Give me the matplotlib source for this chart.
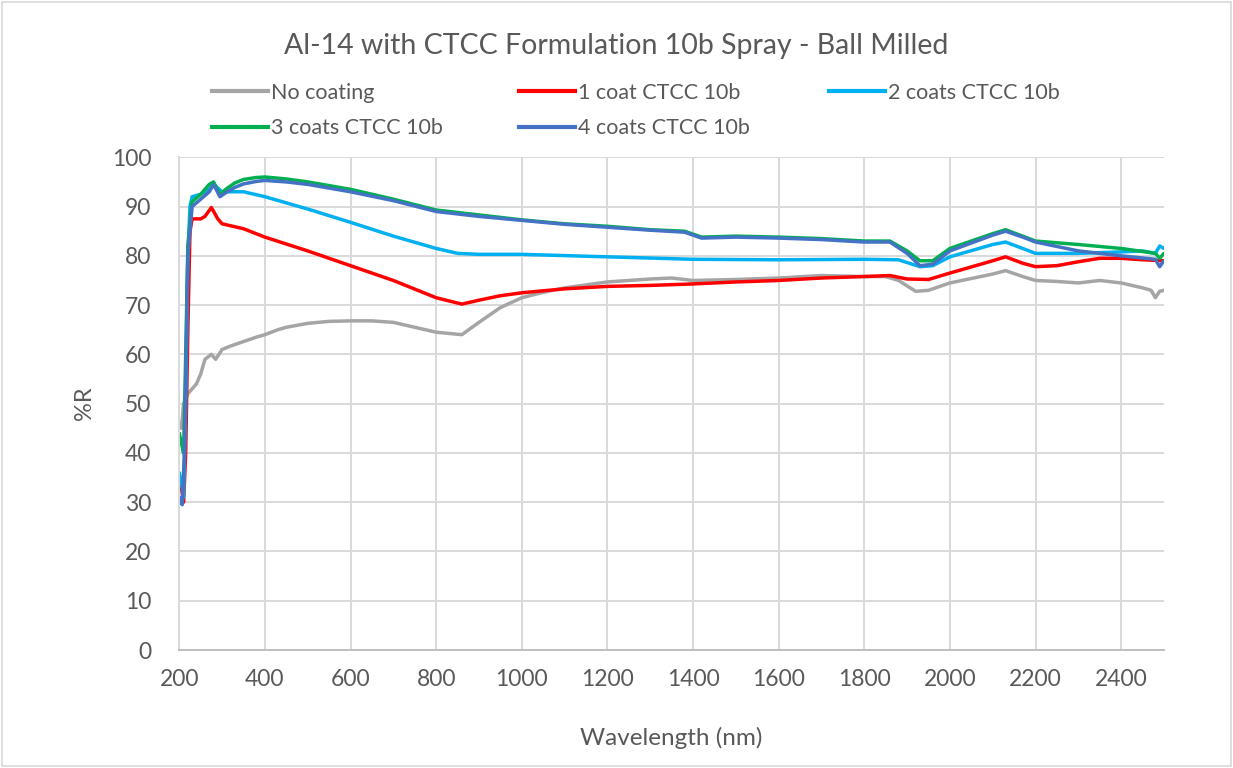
import matplotlib.pyplot as plt
from matplotlib.patches import Rectangle
from matplotlib.lines import Line2D

plt.rcParams['font.family'] = ['Lato', 'DejaVu Sans']

TEXT = '#595959'
GRID = '#D9D9D9'

title = "Al-14 with CTCC Formulation 10b Spray - Ball Milled"
labels = ["No coating", "1 coat CTCC 10b", "2 coats CTCC 10b",
          "3 coats CTCC 10b", "4 coats CTCC 10b"]
colors = ['#A5A5A5', '#FF0000', '#00B0F0', '#00B050', '#4472C4']

# %R readings per coating, wavelength in nm
wl_none = [200, 205, 210, 220, 240, 250, 260, 275, 285, 300, 320, 350, 380, 400,
           430, 450, 500, 550, 600, 650, 700, 750, 800, 860, 900, 950, 1000, 1050,
           1100, 1200, 1300, 1350, 1400, 1500, 1600, 1700, 1800, 1850, 1880, 1920,
           1950, 2000, 2100, 2130, 2170, 2200, 2250, 2300, 2350, 2400, 2450, 2470,
           2480, 2490, 2500]
r_none = [46, 45, 50, 52, 54, 56, 59, 60, 59, 61, 61.7, 62.6, 63.5, 64,
          65, 65.5, 66.3, 66.7, 66.8, 66.8, 66.5, 65.5, 64.5, 64, 66.5, 69.5, 71.5, 72.6,
          73.5, 74.7, 75.3, 75.5, 75, 75.2, 75.5, 76, 75.8, 75.8, 75, 72.8,
          73, 74.5, 76.3, 77, 75.8, 75, 74.8, 74.5, 75, 74.5, 73.5, 73,
          71.5, 72.8, 73]

wl_1 = [200, 205, 210, 215, 220, 225, 230, 250, 260, 275, 290, 300, 350, 400,
        500, 600, 700, 800, 860, 900, 950, 1000, 1100, 1200, 1300, 1400, 1500, 1600,
        1700, 1800, 1860, 1900, 1950, 2000, 2100, 2130, 2170, 2200, 2250, 2300,
        2350, 2400, 2450, 2500]
r_1 = [34, 33, 30, 40, 65, 85, 87.5, 87.5, 88, 89.8, 87.5, 86.5, 85.5, 83.8,
       81, 78, 75, 71.5, 70.2, 71, 71.9, 72.5, 73.3, 73.8, 74, 74.3, 74.7, 75,
       75.5, 75.8, 76, 75.3, 75.2, 76.5, 79, 79.8, 78.5, 77.8, 78, 78.8,
       79.5, 79.5, 79.2, 79]

wl_2 = [200, 205, 210, 215, 220, 225, 230, 250, 270, 280, 300, 350, 400, 500,
        600, 700, 800, 850, 900, 1000, 1200, 1400, 1600, 1800, 1880, 1930, 1960,
        2000, 2100, 2130, 2170, 2200, 2300, 2400, 2450, 2480, 2490, 2500]
r_2 = [36, 34, 31, 50, 80, 90, 92, 92.5, 93.5, 94.5, 93, 93, 92, 89.5,
       86.8, 84, 81.5, 80.5, 80.3, 80.3, 79.8, 79.3, 79.2, 79.3, 79.2, 77.8, 78,
       79.8, 82.3, 82.8, 81.5, 80.5, 80.5, 80.8, 81, 80.5, 82, 81.5]

wl_3 = [200, 205, 210, 215, 220, 230, 250, 270, 280, 295, 310, 330, 350, 380, 400,
        450, 500, 600, 700, 800, 900, 1000, 1100, 1200, 1300, 1380, 1420, 1500, 1600,
        1700, 1800, 1860, 1900, 1930, 1960, 2000, 2100, 2130, 2170, 2200, 2300, 2400,
        2480, 2490, 2500]
r_3 = [44, 42, 40, 60, 82, 91, 92.5, 94.5, 95, 92.5, 93.6, 94.8, 95.5, 95.9, 96,
       95.6, 95, 93.5, 91.5, 89.3, 88.3, 87.3, 86.5, 86, 85.3, 85, 83.8, 84, 83.8,
       83.5, 83, 83, 81, 79, 79, 81.5, 84.5, 85.3, 84, 83, 82.3, 81.5,
       80.5, 79.5, 80.5]

wl_4 = [200, 203, 207, 212, 220, 230, 250, 270, 280, 295, 310, 330, 350, 380, 400,
        450, 500, 600, 700, 800, 900, 1000, 1100, 1200, 1300, 1380, 1420, 1500, 1600,
        1700, 1800, 1860, 1900, 1930, 1960, 2000, 2100, 2130, 2170, 2200, 2300, 2400,
        2480, 2490, 2500]
r_4 = [31, 30, 29.5, 40, 80, 90, 91.5, 93, 94.5, 92, 92.9, 93.9, 94.6, 95.1, 95.3,
       95, 94.5, 93, 91.2, 89, 88, 87.2, 86.4, 85.8, 85.2, 84.8, 83.6, 83.8, 83.6,
       83.3, 82.8, 82.8, 80.5, 78, 78.3, 81, 84.2, 85, 83.8, 82.8, 81, 80,
       79.3, 77.8, 79]

wl_sets = [wl_none, wl_1, wl_2, wl_3, wl_4]
r_sets = [r_none, r_1, r_2, r_3, r_4]

fig = plt.figure(figsize=(12.33, 7.68), dpi=100)
ax = fig.add_axes([0.1454, 0.1536, 0.7986, 0.6416])

for wl, r, c in zip(wl_sets, r_sets, colors):
    ax.plot(wl, r, color=c, lw=2.5, solid_capstyle='round', solid_joinstyle='round')

ax.set_xlim(200, 2500)
ax.set_ylim(0, 100)
ax.set_xticks(range(200, 2401, 200))
ax.set_yticks(range(0, 101, 10))
ax.grid(True, color=GRID, lw=1.4)
ax.set_axisbelow(True)
for s in ['top', 'right']:
    ax.spines[s].set_visible(False)
ax.spines['left'].set_color(GRID)
ax.spines['left'].set_linewidth(1.4)
ax.spines['bottom'].set_color('#BFBFBF')
ax.spines['bottom'].set_linewidth(1.4)
ax.tick_params(axis='both', length=0, labelsize=16.5, labelcolor=TEXT)
ax.tick_params(axis='y', pad=20)
ax.tick_params(axis='x', pad=14)

ax.set_xlabel("Wavelength (nm)", fontsize=17.5, color=TEXT, labelpad=26)
ax.set_ylabel("%R", fontsize=17, color=TEXT, labelpad=12)
fig.text(0.5, 0.94, title, fontsize=20.5, color=TEXT, ha='center', va='center')

# legend entries laid out on an even grid, three per row
legend_pos = [(0.172, 0.879), (0.421, 0.879), (0.672, 0.879),
              (0.172, 0.833), (0.421, 0.833)]
for lab, c, (lx, ly) in zip(labels, colors, legend_pos):
    h = Line2D([], [], color=c, lw=3)
    fig.legend([h], [lab], loc='center left', bbox_to_anchor=(lx, ly),
               frameon=False, fontsize=15.5, labelcolor=TEXT,
               handlelength=2.6, handletextpad=0.15, borderpad=0, borderaxespad=0)

fig.patches.append(Rectangle((0.002, 0.003), 0.996, 0.994, transform=fig.transFigure,
                             fill=False, edgecolor=GRID, lw=1.2))

fig.savefig("out.png", dpi=100, facecolor='white')
